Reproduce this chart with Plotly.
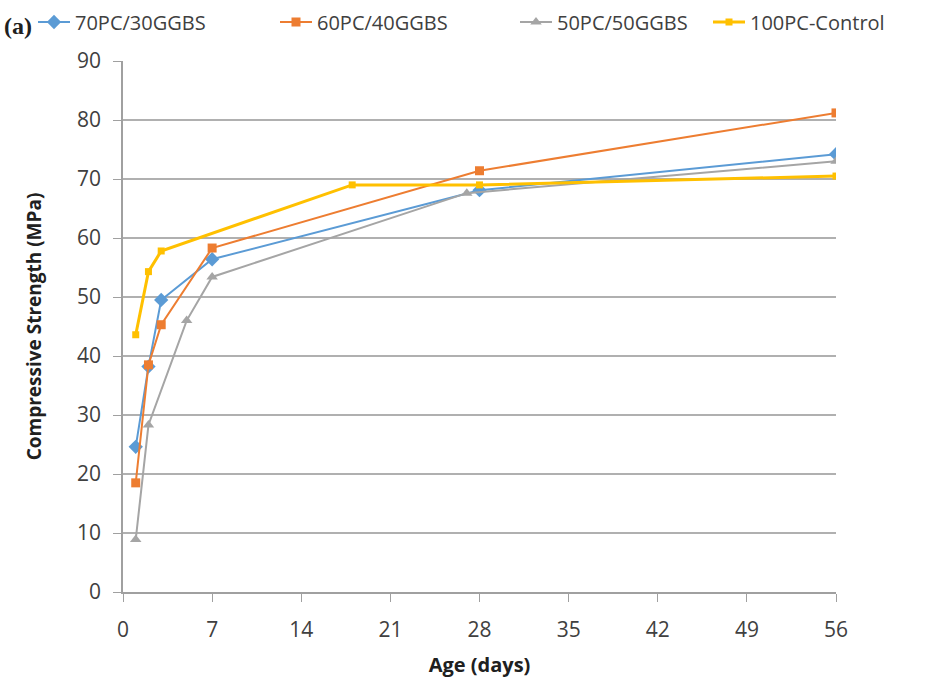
import plotly.graph_objects as go

days_70 = [1, 2, 3, 7, 28, 56]
str_70 = [24.6, 38.2, 49.5, 56.4, 68.1, 74.2]

days_60 = [1, 2, 3, 7, 28, 56]
str_60 = [18.5, 38.5, 45.3, 58.3, 71.4, 81.2]

days_50 = [1, 2, 5, 7, 27, 56]
str_50 = [8.9, 28.3, 46.0, 53.4, 67.6, 73.0]

days_100 = [1, 2, 3, 18, 28, 56]
str_100 = [43.6, 54.3, 57.8, 69.0, 69.0, 70.5]

x_ticks = [0, 7, 14, 21, 28, 35, 42, 49, 56]
y_ticks = [0, 10, 20, 30, 40, 50, 60, 70, 80, 90]

L, R, T, B = 123, 89, 61, 92
PW = 925 - L - R
PH = 684 - T - B

def px_to_paper_x(px):
    return (px - L) / PW

def px_to_paper_y(py):
    return 1 + (T - py) / PH

fig = go.Figure()
fig.add_trace(go.Scatter(x=days_70, y=str_70, name="70PC/30GGBS", mode="lines+markers",
                         line=dict(color="#5B9BD5", width=2),
                         marker=dict(symbol="diamond", size=11, color="#5B9BD5"),
                         legend="legend"))
fig.add_trace(go.Scatter(x=days_60, y=str_60, name="60PC/40GGBS", mode="lines+markers",
                         line=dict(color="#ED7D31", width=2),
                         marker=dict(symbol="square", size=9, color="#ED7D31"),
                         legend="legend2"))
fig.add_trace(go.Scatter(x=days_50, y=str_50, name="50PC/50GGBS", mode="lines+markers",
                         line=dict(color="#A5A5A5", width=2),
                         marker=dict(symbol="triangle-up", size=10, color="#A5A5A5"),
                         legend="legend3"))
fig.add_trace(go.Scatter(x=days_100, y=str_100, name="100PC-Control", mode="lines+markers",
                         line=dict(color="#FFC000", width=3),
                         marker=dict(symbol="square", size=7, color="#FFC000"),
                         legend="legend4"))

font_main = "Open Sans, Liberation Sans, sans-serif"

def leg(px):
    return dict(orientation="h", x=px_to_paper_x(px), y=px_to_paper_y(22), yanchor="middle",
                xanchor="left", font=dict(size=20, color="#404040"), itemwidth=32,
                bgcolor="rgba(0,0,0,0)")

fig.update_layout(
    width=925, height=684,
    margin=dict(l=L, r=R, t=T, b=B, autoexpand=False),
    paper_bgcolor="white", plot_bgcolor="white",
    font=dict(family=font_main, color="#404040"),
    showlegend=True,
    legend=leg(33), legend2=leg(275), legend3=leg(515), legend4=leg(708),
    xaxis=dict(range=[0, 56], tickvals=x_ticks, showgrid=False, zeroline=False,
               showline=True, linecolor="#A0A0A0", linewidth=1.5,
               ticks="outside", ticklen=8, tickcolor="#A0A0A0", ticklabelstandoff=10,
               tickfont=dict(size=21, color="#404040"),
               title=dict(text="<b>Age (days)</b>", font=dict(size=20, color="#202020"), standoff=16)),
    yaxis=dict(range=[0, 90], tickvals=y_ticks, showgrid=True, gridcolor="#B0B0B0", gridwidth=1.5,
               zeroline=False, showline=True, linecolor="#A0A0A0", linewidth=1.5,
               ticks="outside", ticklen=8, tickcolor="#A0A0A0", ticklabelstandoff=8,
               tickfont=dict(size=21, color="#404040"),
               title=dict(text="<b>Compressive Strength (MPa)</b>", font=dict(size=19, color="#202020"), standoff=30)),
)
fig.add_annotation(text="<b>(a)</b>", xref="paper", yref="paper",
                   x=px_to_paper_x(2), y=px_to_paper_y(26), xanchor="left", yanchor="middle",
                   showarrow=False, font=dict(family="Liberation Serif, DejaVu Serif, serif", size=24, color="#202020"))

fig.write_html("out.html")
